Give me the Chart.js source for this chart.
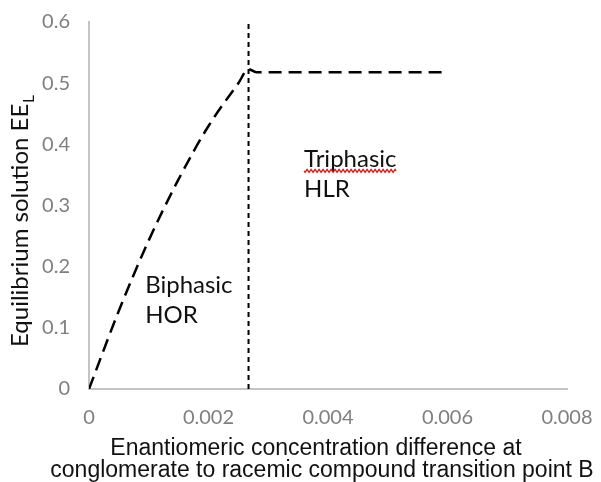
<!DOCTYPE html>
<html><head><meta charset="utf-8">
<script src="https://cdn.jsdelivr.net/npm/chart.js@4.4.1/dist/chart.umd.min.js"></script>
<style>html,body{margin:0;padding:0;background:#fff;}#wrap{width:601px;height:482px;position:relative;}</style>
</head><body><div id="wrap"><canvas id="c"></canvas></div>
<script>
// ---- data ----
const curveX = [0, 0.0005, 0.001, 0.0015, 0.002, 0.0025, 0.00267, 0.0028, 0.006];
const curveY = [0, 0.128, 0.243, 0.343, 0.43, 0.50, 0.523, 0.518, 0.518];
const boundaryX = [0.00267, 0.00267];
const boundaryY = [0, 0.6];
const xTickValues = [0, 0.002, 0.004, 0.006, 0.008];
const xTickLabels = ['0', '0.002', '0.004', '0.006', '0.008'];
const yTickValues = [0, 0.1, 0.2, 0.3, 0.4, 0.5, 0.6];
const yTickLabels = ['0', '0.1', '0.2', '0.3', '0.4', '0.5', '0.6'];
const xTitleLines = ['Enantiomeric concentration difference at', 'conglomerate to racemic compound transition point B'];
const yTitleMain = 'Equilibrium solution EE';
const yTitleSub = 'L';
const regionNames = [['Biphasic', 'HOR'], ['Triphasic', 'HLR']];
const regionAnchorX = [0.00094, 0.0036];
const regionAnchorY = [0.157, 0.363];

const toPts = (xs, ys) => xs.map((x, i) => ({x: x, y: ys[i]}));

const annotate = {
  id: 'annotate',
  afterDraw(chart) {
    const ctx = chart.ctx;
    const xs = chart.scales.x, ys = chart.scales.y;
    ctx.save();
    // region labels
    ctx.fillStyle = '#111';
    ctx.font = '24px Lato';
    ctx.textAlign = 'left';
    ctx.textBaseline = 'alphabetic';
    regionNames.forEach((lines, k) => {
      const px = xs.getPixelForValue(regionAnchorX[k]);
      const py = ys.getPixelForValue(regionAnchorY[k]);
      lines.forEach((t, j) => ctx.fillText(t, px, py + j * 30));
    });
    // red wavy underline under "Triphasic"
    {
      const px = xs.getPixelForValue(regionAnchorX[1]);
      const py = ys.getPixelForValue(regionAnchorY[1]) + 4;
      const w = ctx.measureText(regionNames[1][0]).width;
      ctx.strokeStyle = '#e01818';
      ctx.lineWidth = 1.4;
      ctx.beginPath();
      for (let x = 0; x <= w; x += 1) {
        const y = py + 1.4 * Math.sin(x * Math.PI / 2);
        if (x === 0) ctx.moveTo(px + x, y); else ctx.lineTo(px + x, y);
      }
      ctx.stroke();
    }
    // x title
    ctx.fillStyle = '#111';
    ctx.font = '23px "Liberation Sans", Arial, sans-serif';
    ctx.textAlign = 'center';
    ctx.fillText(xTitleLines[0], 316, 455);
    ctx.fillText(xTitleLines[1], 322, 477);
    // y title with subscript
    ctx.translate(28, 347);
    ctx.rotate(-Math.PI / 2);
    ctx.textAlign = 'left';
    ctx.font = '24px Lato';
    ctx.fillText(yTitleMain, 0, 0);
    const mw = ctx.measureText(yTitleMain).width;
    ctx.font = '15px Lato';
    ctx.fillText(yTitleSub, mw + 1, 6);
    ctx.restore();
  }
};

new Chart(document.getElementById('c'), {
  type: 'scatter',
  data: {
    datasets: [
      {
        data: toPts(curveX, curveY),
        showLine: true,
        borderColor: '#000',
        borderWidth: 2.5,
        borderDash: [13, 7],
        pointRadius: 0,
        cubicInterpolationMode: 'monotone',
        fill: false
      },
      {
        data: toPts(boundaryX, boundaryY),
        showLine: true,
        borderColor: '#000',
        borderWidth: 2,
        borderDash: [5, 4],
        pointRadius: 0,
        fill: false
      }
    ]
  },
  options: {
    responsive: true,
    maintainAspectRatio: false,
    animation: false,
    events: [],
    layout: {padding: {top: 22, right: 34, left: 0, bottom: 0}},
    plugins: {legend: {display: false}, tooltip: {enabled: false}},
    scales: {
      x: {
        type: 'linear',
        min: 0, max: 0.008,
        afterBuildTicks: s => { s.ticks = xTickValues.map(v => ({value: v})); },
        afterFit: s => { s.height = 93; s.paddingRight = 0; s.paddingLeft = 0; },
        grid: {display: false, drawTicks: false},
        border: {display: true, color: '#c4c4c4', width: 2},
        ticks: {
          padding: 17,
          color: '#7f7f7f',
          font: {family: 'Lato', size: 20},
          maxRotation: 0,
          callback: (v, i) => xTickLabels[i]
        }
      },
      y: {
        type: 'linear',
        min: 0, max: 0.6,
        afterBuildTicks: s => { s.ticks = yTickValues.map(v => ({value: v})); },
        afterFit: s => { s.width = 89; s.paddingTop = 0; s.paddingBottom = 0; },
        grid: {display: false, drawTicks: false},
        border: {display: true, color: '#c4c4c4', width: 2},
        ticks: {
          padding: 19,
          color: '#7f7f7f',
          font: {family: 'Lato', size: 20},
          callback: (v, i) => yTickLabels[i]
        }
      }
    }
  },
  plugins: [annotate]
});
</script></body></html>
